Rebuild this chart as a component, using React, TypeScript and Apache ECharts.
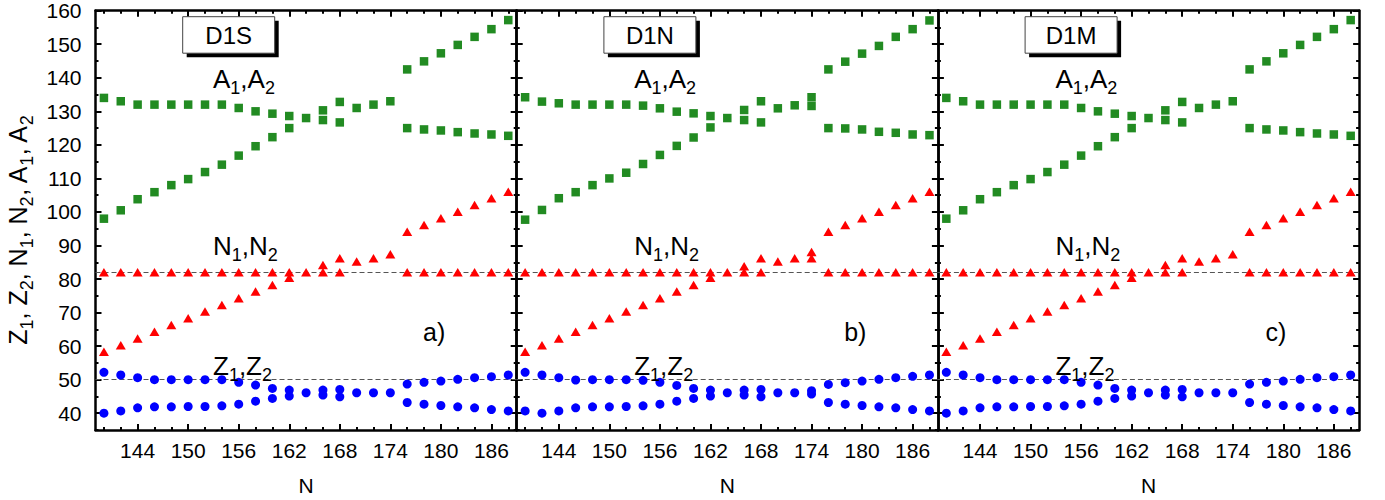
import React, { useEffect, useRef } from "react";
import * as echarts from "echarts";

// ---------- data ----------
const N_VALUES = [140, 142, 144, 146, 148, 150, 152, 154, 156, 158, 160, 162, 164, 166, 168, 170, 172, 174, 176, 178, 180, 182, 184, 186, 188];
const X_MAJOR_TICKS = [144, 150, 156, 162, 168, 174, 180, 186];
const X_MINOR_TICKS = [140, 142, 144, 146, 148, 150, 152, 154, 156, 158, 160, 162, 164, 166, 168, 170, 172, 174, 176, 178, 180, 182, 184, 186, 188];
const Y_MAJOR_TICKS = [40, 50, 60, 70, 80, 90, 100, 110, 120, 130, 140, 150, 160];
const Y_MINOR_TICKS = [35, 40, 45, 50, 55, 60, 65, 70, 75, 80, 85, 90, 95, 100, 105, 110, 115, 120, 125, 130, 135, 140, 145, 150, 155, 160];
const PANEL_NAMES = ["D1S", "D1N", "D1M"];
const PANEL_TAGS = ["a)", "b)", "c)"];
const MAGIC_N = 82;
const MAGIC_Z = 50;

// D1S
const A1_D1S = [134, 133, 132, 132, 132, 132, 132, 132, 131, 130, 129.3, 128.6, 128, 127.4, 126.7, 131, 132, 133, 125, 124.6, 124.3, 123.8, 123.4, 123.1, 122.7];
const A2_D1S = [98, 100.5, 103.8, 105.9, 108, 109.8, 111.9, 114.1, 116.8, 119.6, 122.3, 125, null, 130.3, 132.8, null, null, null, 142.5, 144.9, 147.3, 149.8, 152.2, 154.5, 157.2];
const N1_D1S = [82, 82, 82, 82, 82, 82, 82, 82, 82, 82, 82, 82, 82, 82, 82, null, null, null, 82, 82, 82, 82, 82, 82, 82];
const N2_D1S = [58.3, 60.3, 62.3, 64.3, 66.3, 68.3, 70.3, 72.3, 74.3, 76.3, 78.2, 80.4, null, 84.2, 86.2, 85.2, 86.2, 87.4, 94.1, 96.1, 98.1, 100.1, 102.1, 104.1, 106];
const Z1_D1S = [52.2, 51.4, 50.6, 50, 50, 50, 50, 50, 49.2, 48.4, 47.4, 46.9, 46.1, 46.9, 47.1, 46.1, 46.1, 46.1, 48.7, 49.2, 49.6, 50.1, 50.6, 50.9, 51.4];
const Z2_D1S = [40, 40.7, 41.6, 41.9, 41.9, 42, 42, 42.2, 42.7, 43.6, 44.4, 45.1, null, 45.4, 44.9, null, null, null, 43.2, 42.7, 42.3, 41.9, 41.6, 41.1, 40.7];

// D1N
const A1_D1N = [134.2, 132.9, 132.4, 132, 132, 132, 132, 131.7, 130.9, 129.9, 129.4, 128.6, 128, 127.4, 126.7, 130.9, 131.8, 131.6, 125, 124.9, 124.6, 123.9, 123.6, 123.1, 122.9];
const A2_D1N = [97.7, 100.6, 104.1, 105.9, 108, 110, 111.7, 114.3, 117, 119.7, 122.2, 125.2, null, 130.4, 133, null, null, 134.2, 142.5, 144.8, 147.2, 149.5, 152.2, 154.5, 157.1];
const N1_D1N = [82, 82, 82, 82, 82, 82, 82, 82, 82, 82, 82, 82, 82, 82, 82, null, null, 86.2, 82, 82, 82, 82, 82, 82, 82];
const N2_D1N = [58.3, 60.3, 62.3, 64.3, 66.3, 68.3, 70.3, 72.3, 74.3, 76.3, 78.2, 80.4, null, 83.8, 86.2, 85.2, 86.2, 88.1, 94.1, 96.1, 98.1, 100.1, 102.1, 104.1, 106];
const Z1_D1N = [52.2, 51.4, 50.6, 49.9, 50, 50, 50, 49.8, 49.2, 48.3, 47.4, 46.9, 46.1, 46.9, 47.1, 46.1, 46.1, 46.7, 48.6, 49.1, 49.6, 50.1, 50.6, 51, 51.4];
const Z2_D1N = [40.7, 40, 40.7, 41.6, 41.9, 41.9, 42, 42.2, 42.7, 43.6, 44.4, 45.1, null, 45.4, 44.9, null, null, 45.7, 43.2, 42.7, 42.3, 41.9, 41.6, 41.1, 40.7];

// D1M
const A1_D1M = [134, 133, 132, 132, 132, 132, 132, 132, 131, 130, 129.3, 128.6, 128, 127.4, 126.7, 131, 132, 133, 125, 124.6, 124.3, 123.8, 123.4, 123.1, 122.7];
const A2_D1M = [98, 100.5, 103.8, 105.9, 108, 109.8, 111.9, 114.1, 116.8, 119.6, 122.3, 125, null, 130.3, 132.8, null, null, null, 142.5, 144.9, 147.3, 149.8, 152.2, 154.5, 157.2];
const N1_D1M = [82, 82, 82, 82, 82, 82, 82, 82, 82, 82, 82, 82, 82, 82, 82, null, null, null, 82, 82, 82, 82, 82, 82, 82];
const N2_D1M = [58.3, 60.3, 62.3, 64.3, 66.3, 68.3, 70.3, 72.3, 74.3, 76.3, 78.2, 80.4, null, 84.2, 86.2, 85.2, 86.2, 87.4, 94.1, 96.1, 98.1, 100.1, 102.1, 104.1, 106];
const Z1_D1M = [52.2, 51.4, 50.6, 50, 50, 50, 50, 50, 49.2, 48.4, 47.4, 46.9, 46.1, 46.9, 47.1, 46.1, 46.1, 46.1, 48.7, 49.2, 49.6, 50.1, 50.6, 50.9, 51.4];
const Z2_D1M = [40, 40.7, 41.6, 41.9, 41.9, 42, 42, 42.2, 42.7, 43.6, 44.4, 45.1, null, 45.4, 44.9, null, null, null, 43.2, 42.7, 42.3, 41.9, 41.6, 41.1, 40.7];

const PANEL_DATA = [
  { A: [A1_D1S, A2_D1S], N: [N1_D1S, N2_D1S], Z: [Z1_D1S, Z2_D1S] },
  { A: [A1_D1N, A2_D1N], N: [N1_D1N, N2_D1N], Z: [Z1_D1N, Z2_D1N] },
  { A: [A1_D1M, A2_D1M], N: [N1_D1M, N2_D1M], Z: [Z1_D1M, Z2_D1M] },
];

// ---------- layout / style ----------
const FONT = '"Liberation Sans", Arial, sans-serif';
const GRID_LEFT = 95.5;
const GRID_W = 421.2;
const GRID_TOP = 10.7;
const GRID_H = 419.3;
const X_MIN = 139;
const X_MAX = 189;
const Y_MIN = 35;
const Y_MAX = 160;
const FRAME_W = 2.5;

const toPairs = (ys: (number | null)[]) =>
  N_VALUES.map((x, i) => [x, ys[i]]).filter((p) => p[1] !== null);

function buildOption() {
  const grid: any[] = [];
  const xAxis: any[] = [];
  const yAxis: any[] = [];
  const series: any[] = [];
  const graphic: any[] = [];

  PANEL_NAMES.forEach((name, i) => {
    const L = GRID_LEFT + i * GRID_W;
    grid.push({
      left: L,
      top: GRID_TOP,
      width: GRID_W,
      height: GRID_H,
      containLabel: false,
      outerBoundsMode: "none",
    });

    const xBase = {
      type: "value",
      gridIndex: i,
      min: X_MIN,
      max: X_MAX,
      splitLine: { show: false },
    };
    const yBase = {
      type: "value",
      gridIndex: i,
      min: Y_MIN,
      max: Y_MAX,
      splitLine: { show: false },
    };
    const line = { show: true, onZero: false, lineStyle: { color: "#000", width: FRAME_W } };
    const majTick = (vals: number[]) => ({
      show: true,
      inside: true,
      length: 6,
      customValues: vals,
      lineStyle: { color: "#000", width: 2 },
    });
    const minTick = (vals: number[]) => ({
      show: true,
      inside: true,
      length: 3,
      customValues: vals,
      lineStyle: { color: "#000", width: 2 },
    });

    xAxis.push({
      ...xBase,
      position: "bottom",
      axisLine: line,
      axisTick: majTick(X_MAJOR_TICKS),
      axisLabel: {
        show: true,
        customValues: X_MAJOR_TICKS,
        fontSize: 21,
        fontFamily: FONT,
        color: "#000",
        margin: 10,
      },
      name: "N",
      nameLocation: "middle",
      nameGap: 45,
      nameTextStyle: { fontSize: 21, fontFamily: FONT, color: "#000" },
    });
    xAxis.push({
      ...xBase,
      position: "bottom",
      axisLine: { show: false },
      axisTick: minTick(X_MINOR_TICKS),
      axisLabel: { show: false },
    });
    xAxis.push({
      ...xBase,
      position: "top",
      axisLine: line,
      axisTick: majTick(X_MAJOR_TICKS),
      axisLabel: { show: false },
    });
    xAxis.push({
      ...xBase,
      position: "top",
      axisLine: { show: false },
      axisTick: minTick(X_MINOR_TICKS),
      axisLabel: { show: false },
    });

    yAxis.push({
      ...yBase,
      position: "left",
      axisLine: line,
      axisTick: majTick(Y_MAJOR_TICKS),
      axisLabel: {
        show: i === 0,
        customValues: Y_MAJOR_TICKS,
        fontSize: 21,
        fontFamily: FONT,
        color: "#000",
        margin: 14,
      },
    });
    yAxis.push({
      ...yBase,
      position: "left",
      axisLine: { show: false },
      axisTick: minTick(Y_MINOR_TICKS),
      axisLabel: { show: false },
    });
    yAxis.push({
      ...yBase,
      position: "right",
      axisLine: line,
      axisTick: majTick(Y_MAJOR_TICKS),
      axisLabel: { show: false },
    });
    yAxis.push({
      ...yBase,
      position: "right",
      axisLine: { show: false },
      axisTick: minTick(Y_MINOR_TICKS),
      axisLabel: { show: false },
    });

    const xi = i * 4;
    const yi = i * 4;
    const d = PANEL_DATA[i];
    const dashed = (v: number) => ({
      silent: true,
      symbol: ["none", "none"],
      label: { show: false },
      lineStyle: { color: "#555", type: [5, 3], width: 1, opacity: 1 },
      z: 1,
      data: [{ yAxis: v }],
    });

    d.A.forEach((arr, k) =>
      series.push({
        type: "scatter",
        name: `A${k + 1} ${name}`,
        xAxisIndex: xi,
        yAxisIndex: yi,
        symbol: "rect",
        symbolSize: 8.5,
        z: 3,
        itemStyle: { color: "#228B22", opacity: 1 },
        data: toPairs(arr),
      })
    );
    d.N.forEach((arr, k) =>
      series.push({
        type: "scatter",
        name: `N${k + 1} ${name}`,
        xAxisIndex: xi,
        yAxisIndex: yi,
        symbol: "triangle",
        symbolSize: [10, 8.5],
        z: 3,
        itemStyle: { color: "#FF0000", opacity: 1 },
        data: toPairs(arr),
        markLine: k === 0 ? dashed(MAGIC_N) : undefined,
      })
    );
    d.Z.forEach((arr, k) =>
      series.push({
        type: "scatter",
        name: `Z${k + 1} ${name}`,
        xAxisIndex: xi,
        yAxisIndex: yi,
        symbol: "circle",
        symbolSize: 9,
        z: 3,
        itemStyle: { color: "#0000FF", opacity: 1 },
        data: toPairs(arr),
        markLine: k === 0 ? dashed(MAGIC_Z) : undefined,
      })
    );

    const bx = L + 87.2;
    const by = 16.7;
    graphic.push({
      type: "rect",
      shape: { x: bx + 4, y: by + 4, width: 92, height: 36.5 },
      style: { fill: "#000" },
      z: 100,
    });
    graphic.push({
      type: "rect",
      shape: { x: bx, y: by, width: 92, height: 36.5 },
      style: { fill: "#fff", stroke: "#444", lineWidth: 1 },
      z: 101,
    });
    graphic.push({
      type: "text",
      x: bx + 46,
      y: by + 18.5,
      z: 102,
      style: {
        text: name,
        fontSize: 24,
        fontFamily: FONT,
        fill: "#000",
        align: "center",
        verticalAlign: "middle",
      },
    });
    const sub = { fontSize: 18, fontFamily: FONT, fill: "#000", padding: [18, 0, 0, 0] };
    const lbl = (txt: string, y: number) => ({
      type: "text",
      x: L + 117.5,
      y,
      z: 102,
      style: {
        text: txt,
        fontSize: 26,
        fontFamily: FONT,
        fill: "#000",
        align: "left",
        verticalAlign: "middle",
        rich: { s: sub },
      },
    });
    graphic.push(lbl("A{s|1},A{s|2}", 79));
    graphic.push(lbl("N{s|1},N{s|2}", 246));
    graphic.push(lbl("Z{s|1},Z{s|2}", 366));
    graphic.push({
      type: "text",
      x: L + 327.5,
      y: 332,
      z: 102,
      style: {
        text: PANEL_TAGS[i],
        fontSize: 25,
        fontFamily: FONT,
        fill: "#000",
        align: "left",
        verticalAlign: "middle",
      },
    });
  });

  graphic.push({
    type: "text",
    x: 18,
    y: 230,
    rotation: Math.PI / 2,
    z: 102,
    style: {
      text: "Z{s|1}, Z{s|2}, N{s|1}, N{s|2}, A{s|1}, A{s|2}",
      fontSize: 25,
      fontFamily: FONT,
      fill: "#000",
      align: "center",
      verticalAlign: "middle",
      rich: { s: { fontSize: 18, fontFamily: FONT, fill: "#000", padding: [18, 0, 0, 0] } },
    },
  });

  return {
    animation: false,
    backgroundColor: "#fff",
    grid,
    xAxis,
    yAxis,
    series,
    graphic,
  };
}

export default function App() {
  const ref = useRef<HTMLDivElement>(null);
  useEffect(() => {
    if (!ref.current) return;
    const chart = echarts.init(ref.current, undefined, { renderer: "svg" });
    chart.setOption(buildOption() as any);
    return () => chart.dispose();
  }, []);
  return (
    <div
      ref={ref}
      style={{ position: "absolute", left: 0, top: 0, width: 1385, height: 500 }}
    />
  );
}
